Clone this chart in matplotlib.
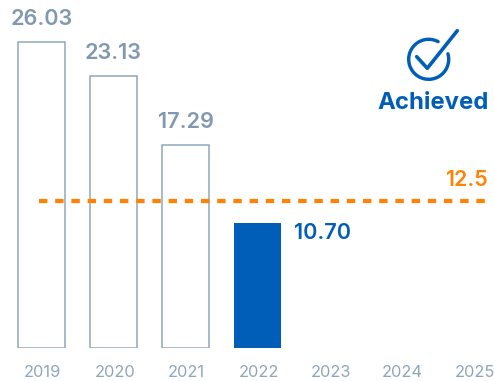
import matplotlib
matplotlib.use("Agg")
import matplotlib.pyplot as plt
from matplotlib.patches import Arc
from matplotlib.transforms import ScaledTranslation

years = ["2019", "2020", "2021", "2022", "2023", "2024", "2025"]
past_values = [26.03, 23.13, 17.29]
current_value = [10.70]
target = 12.5

GREY = "#8199B0"
EDGE = "#8FA6BC"
BLUE = "#005EB8"
ORANGE = "#FF8200"
W, H = 494, 381
DPI = 100
px = 72 / DPI

plt.rcParams["font.family"] = ["Inter", "DejaVu Sans"]

fig = plt.figure(figsize=(W / DPI, H / DPI), dpi=DPI, facecolor="white")
ax = fig.add_axes([0, 32.6 / H, 1, 348.4 / H])
ax.set_xlim(-41.5 / 72, (W - 41.5) / 72)
ax.set_ylim(0, 348.4 / 11.76)
for s in ax.spines.values():
    s.set_visible(False)
ax.set_yticks([])

positions = list(range(len(years)))
ax.set_xticks(positions, years)
ax.tick_params(axis="x", length=0, pad=11.7, labelsize=11.8, labelcolor="#8FA6BC")
nudge = ScaledTranslation(1.2 / DPI, 0, fig.dpi_scale_trans)
for label in ax.get_xticklabels():
    label.set_transform(label.get_transform() + nudge)

# Past years as outlines, the current year as a solid bar
ax.bar(positions[:3], past_values, width=0.64, facecolor="white", edgecolor=EDGE, linewidth=1.5 * px)
ax.bar(positions[3:4], current_value, width=0.665, color=BLUE, linewidth=0)

# Target line
ax.hlines(target, -0.036, 6.16, color=ORANGE, linewidth=4.2 * px, linestyles=(0, (2.0, 1.857)), capstyle="butt")
ax.text(6.2, target + 1.85, "12.5", color=ORANGE, fontsize=15.4, fontweight="semibold", ha="right", va="center")

# Value labels
for x, v in zip(positions[:3], past_values):
    ax.text(x, v + 1.98, f"{v:.2f}", color=GREY, fontsize=15.6, fontweight="semibold", ha="center", va="center")
ax.text(3.5, current_value[0] - 0.85, f"{current_value[0]:.2f}", color=BLUE, fontsize=15.6,
        fontweight="semibold", ha="left", va="center")

# "Achieved" badge, laid out in pixel coordinates
badge = fig.add_axes([0, 0, 1, 1], facecolor="none")
badge.set_xlim(0, W)
badge.set_ylim(0, H)
badge.axis("off")
badge.add_patch(Arc((428.7, H - 59.3), 40, 40, theta1=62, theta2=376, color=BLUE, lw=3.4 * px, capstyle="round"))
badge.plot([416.7, 427.3, 457.3], [H - 56.7, H - 68.3, H - 30.7], color=BLUE, lw=3.6 * px,
           solid_capstyle="round", solid_joinstyle="round")
badge.text(433.5, H - 103, "Achieved", color=BLUE, fontsize=17.2, fontweight="bold", ha="center", va="center")

fig.savefig("out.png", dpi=DPI)
